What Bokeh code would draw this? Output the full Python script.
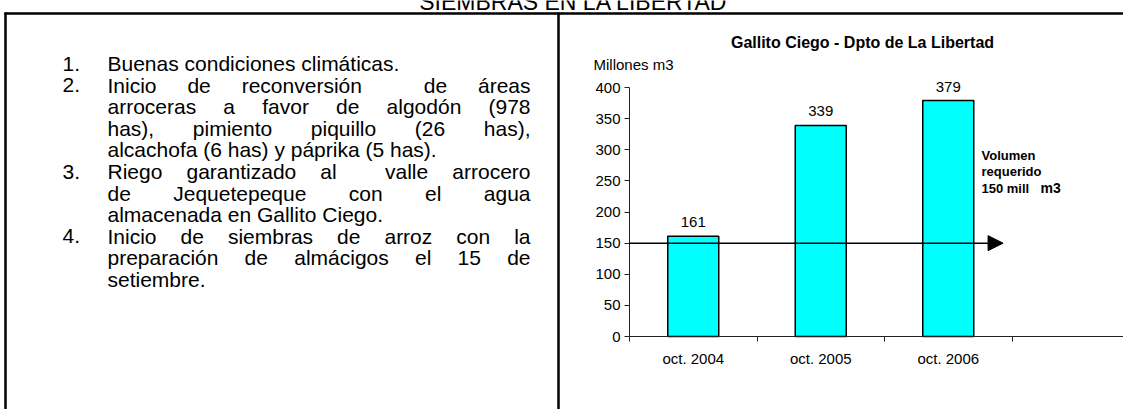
from bokeh.plotting import figure
from bokeh.models import Range1d, LinearAxis, FixedTicker, Arrow, NormalHead
from bokeh.core.properties import value
from bokeh.embed import file_html
from bokeh.resources import INLINE

# ---------------- data ----------------
page_title = "SIEMBRAS EN LA LIBERTAD"
chart_title = "Gallito Ciego - Dpto de La Libertad"
y_unit_label = "Millones m3"
categories = ["oct. 2004", "oct. 2005", "oct. 2006"]
volumes = [161, 339, 379]
required_volume = 150
required_lines = ["Volumen", "requerido", "150 mill"]
required_unit = "m3"
y_ticks = [0, 50, 100, 150, 200, 250, 300, 350, 400]

item_numbers = ["1.", "2.", "3.", "4."]
item_lines = [
    ["Buenas condiciones climáticas."],
    ["Inicio de reconversión  de áreas",
     "arroceras a favor de algodón (978",
     "has), pimiento piquillo (26 has),",
     "alcachofa (6 has) y  páprika (5 has)."],
    ["Riego garantizado al  valle arrocero",
     "de Jequetepeque con el agua",
     "almacenada en Gallito Ciego."],
    ["Inicio de siembras de arroz con la",
     "preparación de almácigos el 15 de",
     "setiembre."],
]

# ---------------- geometry ----------------
W, H = 1123, 409
AX_X, AX_Y = 629, 336          # pixel position of chart origin
PX_PER_CAT = 127.5
PX_PER_UNIT = 249.0 / 400.0
FONT = "Liberation Sans"

x_range = Range1d(-AX_X / PX_PER_CAT, (W - AX_X) / PX_PER_CAT)
y_range = Range1d(-(H - AX_Y) / PX_PER_UNIT, AX_Y / PX_PER_UNIT)

p = figure(width=W, height=H, output_backend="svg", toolbar_location=None,
           x_range=x_range, y_range=y_range, x_axis_type=None, y_axis_type=None,
           min_border=0, outline_line_color=None, background_fill_color="white",
           border_fill_color="white")
p.grid.visible = False
p.extra_x_ranges = {"px": Range1d(0, W)}
p.extra_y_ranges = {"py": Range1d(H, 0)}
PX = dict(x_range_name="px", y_range_name="py")

# ---------------- chart ----------------
centers = [i + 0.5 for i in range(len(categories))]
bounds = list(range(len(categories) + 1))

yaxis = LinearAxis(fixed_location=0, bounds=(y_ticks[0], y_ticks[-1]),
                   ticker=FixedTicker(ticks=y_ticks))
yaxis.major_tick_out = 5
yaxis.major_tick_in = 0
yaxis.minor_tick_out = 0
yaxis.major_label_standoff = 4
yaxis.axis_line_color = "#222222"
yaxis.major_tick_line_color = "#222222"
yaxis.major_label_text_font = FONT
yaxis.major_label_text_font_size = "15px"
yaxis.major_label_text_color = "black"
p.add_layout(yaxis, "left")

xaxis = LinearAxis(fixed_location=0, bounds=(0, x_range.end),
                   ticker=FixedTicker(ticks=centers, minor_ticks=bounds))
xaxis.major_label_overrides = {c: lab for c, lab in zip(centers, categories)}
xaxis.major_tick_out = 0
xaxis.major_tick_in = 0
xaxis.minor_tick_out = 5
xaxis.minor_tick_in = 0
xaxis.minor_tick_line_color = "#222222"
xaxis.axis_line_color = "#222222"
xaxis.major_label_standoff = 8
xaxis.major_label_text_font = FONT
xaxis.major_label_text_font_size = "15px"
xaxis.major_label_text_color = "black"
p.add_layout(xaxis, "below")

p.vbar(x=centers, top=volumes, bottom=0, width=0.4, fill_color="#00FFFF",
       line_color="black", line_width=1.5)
p.text(x=centers, y=volumes, text=[str(v) for v in volumes], y_offset=-9,
       text_align="center", text_baseline="bottom", text_font=value(FONT),
       text_font_size="15px", text_color="black")

p.add_layout(Arrow(x_start=0, y_start=required_volume, x_end=2.93, y_end=required_volume,
                   line_width=1.5, line_color="black",
                   end=NormalHead(size=15, fill_color="black", line_color="black")))

# chart texts
p.text(x=[862], y=[42], text=[chart_title], text_align="center", text_baseline="middle",
       text_font=value(FONT), text_font_style="bold", text_font_size="16px",
       text_color="black", **PX)
p.text(x=[593], y=[64], text=[y_unit_label], text_align="left", text_baseline="middle",
       text_font=value(FONT), text_font_size="15px", text_color="black", **PX)
p.text(x=[981, 981, 981], y=[155, 171, 188], text=required_lines, text_align="left",
       text_baseline="middle", text_font=value(FONT), text_font_style="bold",
       text_font_size="13px", text_color="black", **PX)
p.text(x=[1040], y=[187], text=[required_unit], text_align="left", text_baseline="middle",
       text_font=value(FONT), text_font_style="bold", text_font_size="14px",
       text_color="black", **PX)

# ---------------- frame lines ----------------
p.segment(x0=[4, 5, 558], y0=[13, 12, 12], x1=[W, 5, 558], y1=[13, H, H],
          line_color="black", line_width=2.5, **PX)

# page title (its top is cut off by the page edge, as in the original)
p.text(x=[573], y=[1], text=[page_title], text_align="center", text_baseline="middle",
       text_font=value(FONT), text_font_size="23px", text_color="black", **PX)

# ---------------- justified list text ----------------
AW = {' ': 278, '(': 333, ')': 333, ',': 278, '.': 278, '-': 333}
for d in "0123456789":
    AW[d] = 556
AW.update({'A': 667, 'B': 667, 'C': 722, 'D': 722, 'E': 667, 'F': 611, 'G': 778, 'H': 722,
           'I': 278, 'J': 500, 'K': 667, 'L': 556, 'M': 833, 'N': 722, 'O': 778, 'P': 667,
           'Q': 778, 'R': 722, 'S': 667, 'T': 611, 'U': 722, 'V': 667, 'W': 944, 'X': 667,
           'Y': 667, 'Z': 611,
           'a': 556, 'b': 556, 'c': 500, 'd': 556, 'e': 556, 'f': 278, 'g': 556, 'h': 556,
           'i': 222, 'j': 222, 'k': 500, 'l': 222, 'm': 833, 'n': 556, 'o': 556, 'p': 556,
           'q': 556, 'r': 333, 's': 500, 't': 278, 'u': 556, 'v': 500, 'w': 722, 'x': 500,
           'y': 500, 'z': 500, 'á': 556, 'é': 556, 'í': 278, 'ó': 556, 'ú': 556, 'ñ': 556})

FS = 21
NUM_X, TXT_X, RIGHT_X = 62, 107, 530
Y0, DY = 63, 21.6


def width(s):
    return sum(AW.get(c, 556) for c in s) * FS / 1000.0


wx, wy, wt = [], [], []
nx, ny, nt = [], [], []
row = 0
for num, lines in zip(item_numbers, item_lines):
    nx.append(NUM_X); ny.append(Y0 + row * DY); nt.append(num)
    for k, line in enumerate(lines):
        yy = Y0 + row * DY
        last = (k == len(lines) - 1)
        if last:
            wx.append(TXT_X); wy.append(yy); wt.append(line)
        else:
            words = line.split(" ")
            total = sum(width(w) for w in words)
            gap = (RIGHT_X - TXT_X - total) / (len(words) - 1)
            xx = TXT_X
            for w in words:
                if w:
                    wx.append(xx); wy.append(yy); wt.append(w)
                xx += width(w) + gap
        row += 1

p.text(x=nx, y=ny, text=nt, text_align="left", text_baseline="middle",
       text_font=value(FONT), text_font_size=f"{FS}px", text_color="black", **PX)
p.text(x=wx, y=wy, text=wt, text_align="left", text_baseline="middle",
       text_font=value(FONT), text_font_size=f"{FS}px", text_color="black", **PX)

open("out.html", "w").write(file_html(p, INLINE))
